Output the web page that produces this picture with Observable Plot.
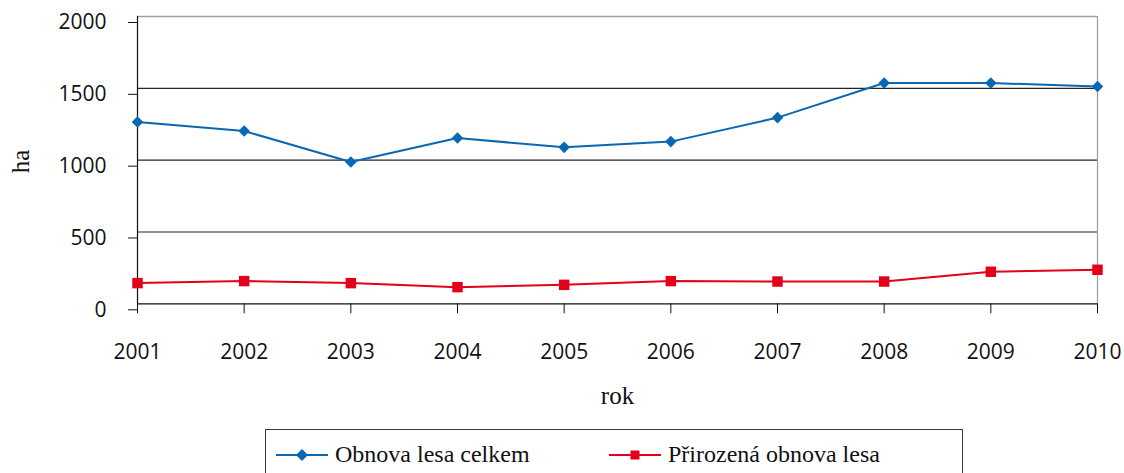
<!DOCTYPE html>
<html>
<head>
<meta charset="utf-8">
<script src="https://cdn.jsdelivr.net/npm/d3@7"></script>
<script src="https://cdn.jsdelivr.net/npm/@observablehq/plot@0.6"></script>
<style>
  html, body { margin: 0; padding: 0; background: #fff; overflow: hidden; }
  #chart svg { display: block; }
  #legend {
    position: absolute; left: 265px; top: 429px; width: 698px; height: 80px;
    border: 1px solid #3a3a3a; box-sizing: border-box; background: #fff;
    font-family: "Liberation Serif", "Times New Roman", serif; font-size: 24px; color: #111;
  }
  .item { position: absolute; top: 11px; display: flex; align-items: center; white-space: nowrap; }
  .item svg { margin-right: 6px; }
</style>
</head>
<body>
<div id="chart"></div>
<div id="legend"></div>
<script>
// ---- data ----
const years = [2001, 2002, 2003, 2004, 2005, 2006, 2007, 2008, 2009, 2010];
const obnovaCelkem = [1265, 1203, 987, 1154, 1089, 1129, 1296, 1537, 1537, 1512];
const prirozenaObnova = [144, 158, 144, 116, 132, 158, 155, 155, 223, 237];
const yTicks = [0, 500, 1000, 1500, 2000];
const seriesNames = ["Obnova lesa celkem", "Přirozená obnova lesa"];
const seriesColors = ["#0a67b2", "#e2001a"];
const xTitle = "rok";
const yTitle = "ha";

const rows1 = years.map((y, i) => ({year: y, value: obnovaCelkem[i]}));
const rows2 = years.map((y, i) => ({year: y, value: prirozenaObnova[i]}));

const tickFont = "'Open Sans', 'Noto Sans', sans-serif";
const serif = "'Liberation Serif', 'Times New Roman', serif";

const chart = Plot.plot({
  width: 1124,
  height: 420,
  marginLeft: 137,
  marginRight: 27,
  marginTop: 16,
  marginBottom: 116.7,
  style: {background: "#fff", color: "#111"},
  x: {domain: [2001, 2010]},
  y: {domain: [0, 2000]},
  marks: [
    Plot.ruleY([500, 1000, 1500], {stroke: "#262626", strokeWidth: 1.1}),
    Plot.ruleY([2000], {stroke: "#a0a0a0", strokeWidth: 1.3}),
    Plot.ruleX([2010], {stroke: "#a0a0a0", strokeWidth: 1.3}),
    Plot.axisY({ticks: yTicks, tickFormat: "d", tickSize: 9, tickPadding: 22, fontSize: 21, fontFamily: tickFont, label: null, dy: 6, stroke: "#111"}),
    Plot.axisX({ticks: years, tickFormat: "d", tickSize: 10, tickPadding: 30, fontSize: 21, fontFamily: tickFont, label: null, stroke: "#111"}),
    Plot.ruleX([2001], {stroke: "#111", strokeWidth: 1.2}),
    Plot.ruleY([0], {stroke: "#111", strokeWidth: 1.2}),
    Plot.line(rows1, {x: "year", y: "value", stroke: seriesColors[0], strokeWidth: 2}),
    Plot.line(rows2, {x: "year", y: "value", stroke: seriesColors[1], strokeWidth: 2}),
    Plot.dot(rows1, {x: "year", y: "value", symbol: "diamond2", r: 5.2, fill: seriesColors[0], stroke: "none"}),
    Plot.dot(rows2, {x: "year", y: "value", symbol: "square", r: 5.9, fill: seriesColors[1], stroke: "none"}),
    Plot.text([yTitle], {frameAnchor: "left", dx: -117, dy: 13, rotate: -90, fontSize: 25, fontFamily: serif, fill: "#111", text: d => d, letterSpacing: "1.5px"}),
    Plot.text([xTitle], {frameAnchor: "bottom", dy: 100, fontSize: 25, fontFamily: serif, fill: "#111", text: d => d, letterSpacing: "1.5px"})
  ]
});
document.getElementById("chart").append(chart);

// ---- legend ----
const legend = d3.select("#legend");
const lefts = [6, 339];
seriesNames.forEach((name, i) => {
  const item = legend.append("div").attr("class", "item").style("left", lefts[i] + "px");
  const svg = item.append("svg").attr("width", 57).attr("height", 20);
  svg.append("line").attr("x1", 4).attr("x2", 56).attr("y1", 10).attr("y2", 10)
    .attr("stroke", seriesColors[i]).attr("stroke-width", 2);
  if (i === 0) {
    svg.append("path").attr("d", "M30,4L36,10L30,16L24,10Z").attr("fill", seriesColors[i]);
  } else {
    svg.append("rect").attr("x", 25.5).attr("y", 5.5).attr("width", 9).attr("height", 9).attr("fill", seriesColors[i]);
  }
  item.append("span").text(name);
});
</script>
</body>
</html>
